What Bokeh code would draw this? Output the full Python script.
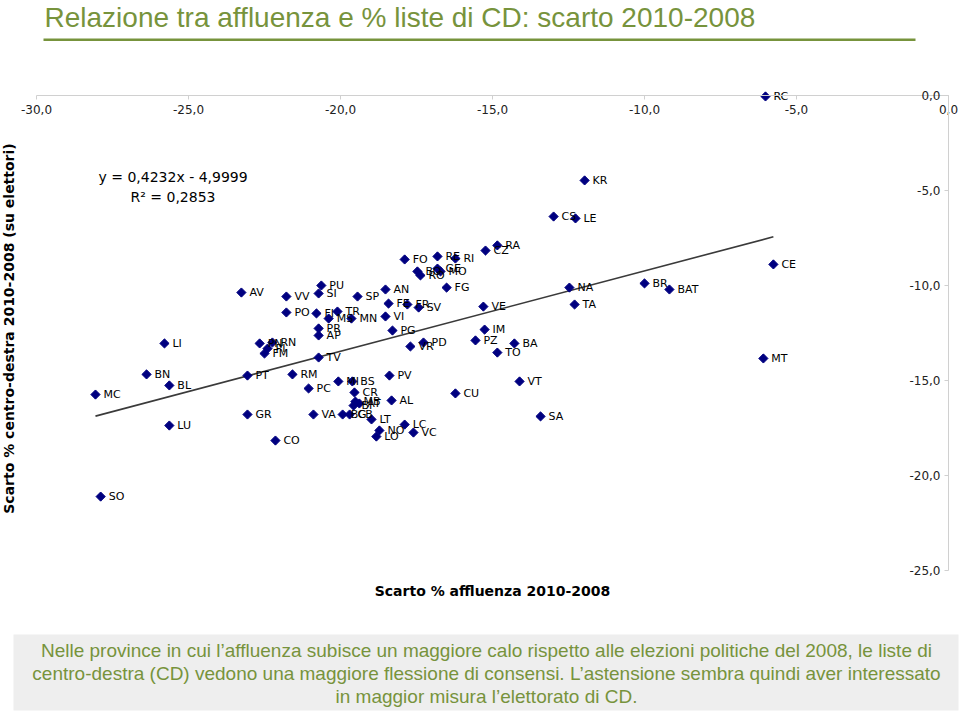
import numpy as np
from bokeh.plotting import figure
from bokeh.models import ColumnDataSource, Range1d, LinearAxis, FixedTicker, Label, BoxAnnotation
from bokeh.core.properties import value
from bokeh.embed import file_html
from bokeh.resources import INLINE

# ---------------- data ----------------
provinces = ["RC", "KR", "CS", "LE", "RA", "CZ", "FO", "RE", "RI", "BO", "RO", "GE", "MO",
             "FG", "AN", "PU", "SI", "AV", "VV", "SP", "FE", "FR", "SV", "VE", "PO", "FI",
             "TR", "MS", "MN", "VI", "PR", "AP", "PG", "IM", "PZ", "BA", "TO", "PD", "VR",
             "LI", "PN", "RN", "PI", "FM", "TV", "MT", "CE", "BR", "BAT", "NA", "TA", "BN",
             "BL", "MC", "PT", "RM", "PC", "MI", "BS", "PV", "CR", "AL", "CU", "VT", "SA",
             "MB", "AT", "BI", "VA", "BG", "CB", "LT", "LC", "VC", "NO", "LO", "GR", "LU",
             "CO", "SO"]
scarto_affluenza = [-6.02, -11.97, -12.99, -12.27, -14.84, -15.23, -17.89, -16.81, -16.22,
                    -17.47, -17.37, -16.81, -16.71, -16.51, -18.52, -20.63, -20.72, -23.26,
                    -21.78, -19.44, -18.42, -17.80, -17.43, -15.30, -21.78, -20.79, -20.10,
                    -20.39, -19.64, -18.52, -20.72, -20.72, -18.29, -15.26, -15.56, -14.28,
                    -14.84, -17.27, -17.70, -25.79, -22.66, -22.24, -22.40, -22.50, -20.72,
                    -6.09, -5.76, -10.00, -9.18, -12.47, -12.30, -26.38, -25.63, -28.06,
                    -23.06, -21.58, -21.05, -20.07, -19.61, -18.39, -19.54, -18.32, -16.22,
                    -14.11, -13.42, -19.51, -19.38, -19.57, -20.89, -19.93, -19.70, -18.98,
                    -17.89, -17.60, -18.72, -18.82, -23.06, -25.63, -22.14, -27.89]
scarto_cd = [-0.05, -4.47, -6.37, -6.47, -7.89, -8.16, -8.63, -8.47, -8.58, -9.26, -9.47,
             -9.11, -9.26, -10.11, -10.21, -10.00, -10.42, -10.37, -10.58, -10.58, -10.95,
             -11.00, -11.16, -11.11, -11.42, -11.47, -11.37, -11.74, -11.74, -11.63, -12.26,
             -12.63, -12.37, -12.32, -12.89, -13.05, -13.53, -13.00, -13.21, -13.05, -13.05,
             -13.00, -13.32, -13.58, -13.79, -13.84, -8.89, -9.89, -10.21, -10.11, -11.00,
             -14.68, -15.26, -15.74, -14.74, -14.68, -15.42, -15.05, -15.05, -14.74, -15.63,
             -16.05, -15.68, -15.05, -16.89, -16.11, -16.21, -16.32, -16.79, -16.79, -16.79,
             -17.05, -17.32, -17.74, -17.63, -17.95, -16.79, -17.37, -18.16, -21.11]

trend_slope = 0.4232
trend_intercept = -4.9999
trend_r2 = 0.2853

x_ticks = [-30, -25, -20, -15, -10, -5, 0]
x_tick_labels = ["-30,0", "-25,0", "-20,0", "-15,0", "-10,0", "-5,0", "0,0"]
y_ticks = [-25, -20, -15, -10, -5, 0]
y_tick_labels = ["-25,0", "-20,0", "-15,0", "-10,0", "-5,0", "0,0"]

title_text = "Relazione tra affluenza e % liste di CD: scarto 2010-2008"
x_title = "Scarto % affluenza 2010-2008"
y_title = "Scarto % centro-destra 2010-2008 (su elettori)"
note_lines = [
    "Nelle province in cui l\u2019affluenza subisce un maggiore calo rispetto alle elezioni politiche del 2008, le liste di",
    "centro-destra (CD) vedono una maggiore flessione di consensi. L\u2019astensione sembra quindi aver interessato",
    "in maggior misura l\u2019elettorato di CD.",
]

# ---------------- layout helpers (canvas pixel -> data) ----------------
W, H = 960, 713
X0, XS = 948.0, 30.4   # canvas x of value 0, px per unit
Y0, YS = 95.0, 19.0    # canvas y of value 0, px per unit


def dx(px):
    return (px - X0) / XS


def dy(py):
    return (Y0 - py) / YS


OLIVE = "#77933C"
SANS = "Liberation Sans"
VERD = "DejaVu Sans"

p = figure(width=W, height=H, output_backend="svg", toolbar_location=None,
           x_range=Range1d(dx(0), dx(W)), y_range=Range1d(dy(H), dy(0)),
           x_axis_type=None, y_axis_type=None, min_border=0)
p.outline_line_color = None
p.background_fill_color = "white"
p.border_fill_color = "white"

# bottom note box
p.add_layout(BoxAnnotation(left=dx(13), right=dx(958), top=dy(634), bottom=dy(710),
                           fill_color="#EEEEEE", fill_alpha=1.0, line_color=None, level="underlay"))
# title underline
p.add_layout(BoxAnnotation(left=dx(43), right=dx(915), top=dy(38), bottom=dy(40.5),
                           fill_color=OLIVE, fill_alpha=1.0, line_color=None, level="underlay"))

# axes crossing at 0
xaxis = LinearAxis(fixed_location=0, bounds=(x_ticks[0], x_ticks[-1]),
                   ticker=FixedTicker(ticks=x_ticks, minor_ticks=[]),
                   major_label_overrides={int(t): l for t, l in zip(x_ticks, x_tick_labels)},
                   axis_line_color="#D0D0D0", major_tick_line_color="#D0D0D0",
                   major_tick_in=0, major_tick_out=4, minor_tick_line_color=None,
                   major_label_standoff=5, major_label_text_font=VERD,
                   major_label_text_font_size="12px", major_label_text_color="#222222")
p.add_layout(xaxis, "below")
yaxis = LinearAxis(fixed_location=0, bounds=(y_ticks[0], y_ticks[-1]),
                   ticker=FixedTicker(ticks=y_ticks, minor_ticks=[]),
                   major_label_overrides={int(t): l for t, l in zip(y_ticks, y_tick_labels)},
                   axis_line_color="#D0D0D0", major_tick_line_color="#D0D0D0",
                   major_tick_in=0, major_tick_out=4, minor_tick_line_color=None,
                   major_label_standoff=4, major_label_text_font=VERD,
                   major_label_text_font_size="12px", major_label_text_color="#222222")
p.add_layout(yaxis, "left")

# trend line
xs_tr = np.array([min(scarto_affluenza), max(scarto_affluenza)])
p.line(xs_tr, trend_slope * xs_tr + trend_intercept, line_color="#3A3A3A", line_width=1.6)

src = ColumnDataSource(dict(x=scarto_affluenza, y=scarto_cd, name=provinces))
p.scatter("x", "y", source=src, marker="square", angle=np.pi / 4, size=6.5,
          fill_color="#000080", line_color="#000080")
p.text("x", "y", text="name", source=src, x_offset=8, text_baseline="middle",
       text_font=value(VERD), text_font_size="11px", text_color="black")

# equation
eq1 = "y = %sx - %s" % (("%.4f" % trend_slope).replace(".", ","),
                         ("%.4f" % abs(trend_intercept)).replace(".", ","))
eq2 = "R\u00b2 = %s" % ("%.4f" % trend_r2).replace(".", ",")
p.add_layout(Label(x=dx(98), y=dy(176), text=eq1, text_baseline="middle",
                   text_font=VERD, text_font_size="14px", text_color="black"))
p.add_layout(Label(x=dx(130), y=dy(196), text=eq2, text_baseline="middle",
                   text_font=VERD, text_font_size="14px", text_color="black"))

# titles
p.add_layout(Label(x=dx(44), y=dy(17), text=title_text, text_baseline="middle",
                   text_font=SANS, text_font_size="28px", text_color=OLIVE))
p.add_layout(Label(x=dx(492), y=dy(590), text=x_title, text_baseline="middle", text_align="center",
                   text_font=VERD, text_font_size="14px", text_font_style="bold", text_color="black"))
p.add_layout(Label(x=dx(8), y=dy(328), text=y_title, text_baseline="middle", text_align="center",
                   angle=np.pi / 2, text_font=VERD, text_font_size="14px",
                   text_font_style="bold", text_color="black"))

for i, line in enumerate(note_lines):
    p.add_layout(Label(x=dx(486), y=dy(650 + 23 * i), text=line, text_baseline="middle",
                       text_align="center", text_font=SANS, text_font_size="19px",
                       text_color=OLIVE))

open("out.html", "w").write(file_html(p, INLINE))
